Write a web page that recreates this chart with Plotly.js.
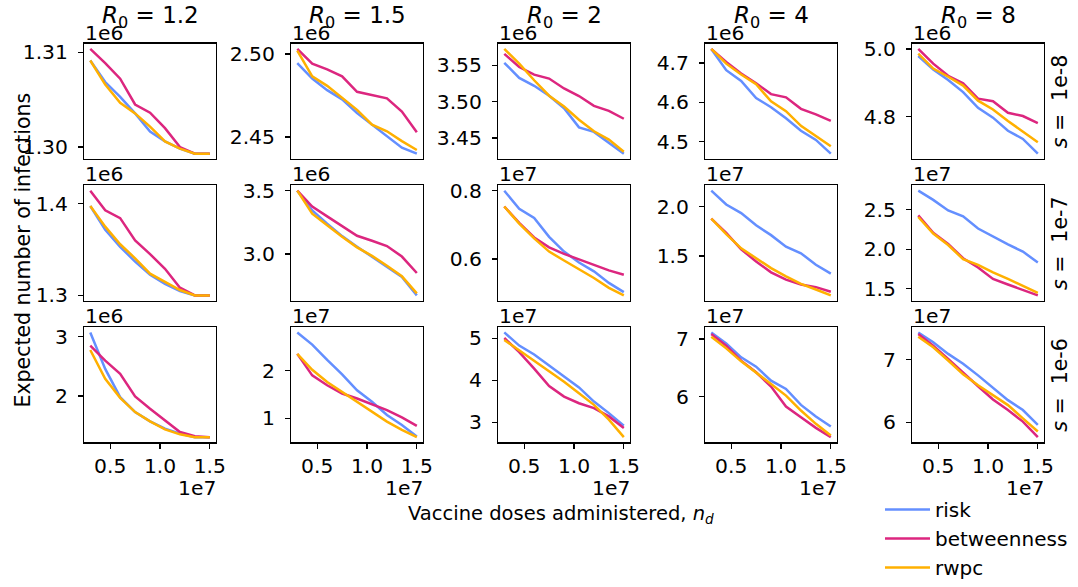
<!DOCTYPE html>
<html>
<head>
<meta charset="utf-8">
<script src="https://cdn.plot.ly/plotly-3.0.1.min.js"></script>
<style>html,body{margin:0;padding:0;background:#fff;}#chart{width:1078px;height:587px;}</style>
</head>
<body>
<div id="chart"></div>
<script>
// ---------------- data ----------------
const R0Labels = ["1.2", "1.5", "2", "4", "8"];
const sLabels = ["1e-8", "1e-7", "1e-6"];
const doses = [3e6, 4.5e6, 6e6, 7.5e6, 9e6, 1.05e7, 1.2e7, 1.35e7, 1.5e7];
const strategies = ["risk", "betweenness", "rwpc"];
const colors = ["#648FFF", "#DC267F", "#FFB000"];

// values shown in units of the per-panel offset (see yOffsets)
const risk_s1e8 = [
  [1.30913, 1.30686, 1.30530, 1.30355, 1.30164, 1.30059, 1.29983, 1.29930, 1.29930],
  [2.49444, 2.48512, 2.47817, 2.47262, 2.46429, 2.45734, 2.45040, 2.44345, 2.43988],
  [3.5536, 3.5327, 3.5218, 3.5082, 3.4909, 3.4645, 3.4582, 3.4432, 3.4282],
  [4.7358, 4.6817, 4.6542, 4.6108, 4.5875, 4.5592, 4.5275, 4.5042, 4.4692],
  [4.9790, 4.9391, 4.9082, 4.8725, 4.8261, 4.7971, 4.7585, 4.7343, 4.6908]
];
const betweenness_s1e8 = [
  [1.31035, 1.30885, 1.30721, 1.30449, 1.30362, 1.30199, 1.30000, 1.29930, 1.29930],
  [2.50298, 2.49405, 2.49067, 2.48651, 2.47718, 2.47520, 2.47321, 2.46528, 2.45278],
  [3.5659, 3.5477, 3.5373, 3.5318, 3.5182, 3.5077, 3.4941, 3.4873, 3.4764],
  [4.7358, 4.7025, 4.6733, 4.6483, 4.6208, 4.6125, 4.5833, 4.5692, 4.5525],
  [5.0000, 4.9565, 4.9208, 4.8986, 4.8531, 4.8454, 4.8116, 4.8019, 4.7807]
];
const rwpc_s1e8 = [
  [1.30913, 1.30659, 1.30467, 1.30355, 1.30216, 1.30059, 1.29983, 1.29930, 1.29930],
  [2.50198, 2.48651, 2.48075, 2.47361, 2.46627, 2.45734, 2.45337, 2.44742, 2.44206],
  [3.5727, 3.5523, 3.5295, 3.5082, 3.4932, 3.4750, 3.4591, 3.4477, 3.4309],
  [4.7358, 4.6983, 4.6708, 4.6458, 4.6025, 4.5775, 4.5400, 4.5150, 4.4883],
  [4.9860, 4.9420, 4.9179, 4.8918, 4.8473, 4.8213, 4.7874, 4.7565, 4.7246]
];

const risk_s1e7 = [
  [1.3972, 1.3712, 1.3527, 1.3367, 1.3224, 1.3124, 1.3046, 1.2998, 1.2998],
  [3.5000, 3.3438, 3.2396, 3.1406, 3.0573, 2.9792, 2.8958, 2.8177, 2.6719],
  [0.8000, 0.7469, 0.7198, 0.6647, 0.6213, 0.5894, 0.5633, 0.5295, 0.5024],
  [2.1600, 2.0200, 1.9333, 1.8100, 1.7100, 1.5933, 1.5267, 1.4100, 1.3200],
  [2.7417, 2.6250, 2.4917, 2.4167, 2.2625, 2.1583, 2.0625, 1.9708, 1.8333]
];
const betweenness_s1e7 = [
  [1.4139, 1.3925, 1.3840, 1.3598, 1.3448, 1.3288, 1.3082, 1.2998, 1.2998],
  [3.5000, 3.3750, 3.2969, 3.2188, 3.1432, 3.1042, 3.0625, 2.9792, 2.8490],
  [0.7536, 0.7053, 0.6628, 0.6338, 0.6145, 0.5990, 0.5826, 0.5662, 0.5536],
  [1.8767, 1.7333, 1.5667, 1.4433, 1.3333, 1.2600, 1.2100, 1.1833, 1.1367],
  [2.4292, 2.2083, 2.0667, 1.8875, 1.7708, 1.6250, 1.5542, 1.4833, 1.4167]
];
const rwpc_s1e7 = [
  [1.3972, 1.3747, 1.3555, 1.3402, 1.3235, 1.3142, 1.3057, 1.2998, 1.2998],
  [3.5000, 3.3177, 3.2266, 3.1354, 3.0521, 2.9844, 2.9063, 2.8229, 2.6875],
  [0.7536, 0.7034, 0.6599, 0.6213, 0.5952, 0.5700, 0.5440, 0.5150, 0.4928],
  [1.8767, 1.7200, 1.5767, 1.4767, 1.3767, 1.2933, 1.2167, 1.1600, 1.1000],
  [2.4083, 2.2000, 2.0542, 1.8750, 1.8042, 1.7083, 1.6250, 1.5417, 1.4500]
];

const risk_s1e6 = [
  [3.0726, 2.4581, 1.9832, 1.7318, 1.5754, 1.4525, 1.3687, 1.3100, 1.3100],
  [2.7931, 2.5379, 2.2207, 1.9172, 1.5862, 1.3448, 1.0690, 0.8621, 0.6207],
  [5.1412, 4.8275, 4.6157, 4.3569, 4.0980, 3.8314, 3.4941, 3.2196, 2.9216],
  [7.1156, 6.9249, 6.6821, 6.5202, 6.2775, 6.1329, 5.8555, 5.6532, 5.4798],
  [7.4392, 7.2804, 7.0952, 6.9365, 6.7513, 6.5556, 6.3545, 6.1958, 5.9577]
];
const betweenness_s1e6 = [
  [2.8492, 2.5978, 2.3743, 1.9944, 1.7877, 1.5922, 1.3966, 1.3240, 1.3100],
  [2.3448, 1.8966, 1.6897, 1.5172, 1.4138, 1.2966, 1.1724, 1.0207, 0.8414],
  [5.0078, 4.6706, 4.2784, 3.8627, 3.6118, 3.4549, 3.3373, 3.1412, 2.8667],
  [7.0867, 6.8844, 6.6243, 6.4220, 6.1734, 5.8266, 5.6416, 5.4566, 5.2948],
  [7.4127, 7.2275, 7.0159, 6.7884, 6.5767, 6.3651, 6.1958, 6.0106, 5.7619]
];
const rwpc_s1e6 = [
  [2.7765, 2.2905, 1.9721, 1.7318, 1.5754, 1.4413, 1.3575, 1.3100, 1.3100],
  [2.3448, 2.0138, 1.7586, 1.5517, 1.3448, 1.1379, 0.9310, 0.7586, 0.6069],
  [4.9608, 4.7098, 4.4745, 4.2235, 3.9647, 3.6902, 3.4157, 3.0627, 2.6471],
  [7.0405, 6.8382, 6.6127, 6.4220, 6.2197, 6.0173, 5.7572, 5.5260, 5.3237],
  [7.3704, 7.2011, 6.9894, 6.7672, 6.5926, 6.4339, 6.2751, 6.0635, 5.8519]
];

const yOffsets = [
  ["1e6", "1e6", "1e6", "1e6", "1e6"],
  ["1e6", "1e6", "1e7", "1e7", "1e7"],
  ["1e6", "1e7", "1e7", "1e7", "1e7"]
];
const yTickLabels = [
  [["1.30", "1.31"], ["2.45", "2.50"], ["3.45", "3.50", "3.55"], ["4.5", "4.6", "4.7"], ["4.8", "5.0"]],
  [["1.3", "1.4"], ["3.0", "3.5"], ["0.6", "0.8"], ["1.5", "2.0"], ["1.5", "2.0", "2.5"]],
  [["2", "3"], ["1", "2"], ["3", "4", "5"], ["6", "7"], ["6", "7"]]
];
const xTickLabels = ["0.5", "1.0", "1.5"];
const xOffset = "1e7";

// ---------------- layout geometry (pixels) ----------------
const W = 1078, H = 587;
const colLeft = [84.3, 291.3, 498.3, 705.3, 912.3];
const colW = 131.5;
const rowTop = [44.3, 188.0, 331.7];
const rowH = 116.8;
const px = v => v / W;
const py = v => 1 - v / H;

const FONT = "DejaVu Sans, Verdana, sans-serif";
const FS = 20.3;

const rows = [
  [risk_s1e8, betweenness_s1e8, rwpc_s1e8],
  [risk_s1e7, betweenness_s1e7, rwpc_s1e7],
  [risk_s1e6, betweenness_s1e6, rwpc_s1e6]
];

const traces = [];
const layout = {
  width: W, height: H,
  margin: {l: 0, r: 0, t: 0, b: 0},
  paper_bgcolor: "#fff", plot_bgcolor: "#fff",
  font: {family: FONT, size: FS, color: "#000"},
  showlegend: true,
  legend: {
    x: px(880), y: py(497), xanchor: "left", yanchor: "top",
    bgcolor: "rgba(0,0,0,0)", borderwidth: 0,
    font: {family: FONT, size: 20, color: "#000"},
    tracegroupgap: 0, itemwidth: 45
  },
  annotations: []
};

const xMin = doses[0], xMax = doses[doses.length - 1];
const xPad = 0.05 * (xMax - xMin);

for (let r = 0; r < 3; r++) {
  for (let c = 0; c < 5; c++) {
    const idx = r * 5 + c + 1;
    const sfx = idx === 1 ? "" : String(idx);
    const series = rows[r].map(s => s[c]);
    series.forEach((ys, k) => {
      traces.push({
        x: doses, y: ys, xaxis: "x" + sfx, yaxis: "y" + sfx,
        type: "scatter", mode: "lines",
        line: {color: colors[k], width: 2.5},
        name: strategies[k], legendgroup: strategies[k],
        showlegend: idx === 1, hoverinfo: "skip"
      });
    });
    const all = [].concat(...series);
    const lo = Math.min(...all), hi = Math.max(...all);
    const pad = 0.05 * (hi - lo);
    const common = {
      showline: true, mirror: true, linecolor: "#000", linewidth: 1.3,
      showgrid: false, zeroline: false,
      ticklen: 5, tickwidth: 1.3, tickcolor: "#000",
      tickfont: {family: FONT, size: FS, color: "#000"},
      fixedrange: true
    };
    layout["xaxis" + sfx] = Object.assign({}, common, {
      domain: [px(colLeft[c]), px(colLeft[c] + colW)],
      anchor: "y" + sfx,
      range: [xMin - xPad, xMax + xPad],
      tickmode: "array",
      tickvals: xTickLabels.map(t => parseFloat(t) * 1e7),
      ticktext: xTickLabels,
      ticks: r === 2 ? "outside" : "",
      showticklabels: r === 2
    });
    const yt = yTickLabels[r][c];
    layout["yaxis" + sfx] = Object.assign({}, common, {
      domain: [py(rowTop[r] + rowH), py(rowTop[r])],
      anchor: "x" + sfx,
      range: [lo - pad, hi + pad],
      tickmode: "array",
      tickvals: yt.map(parseFloat),
      ticktext: yt,
      ticks: "outside",
      ticklabelstandoff: 6
    });
    // offset text above the frame
    layout.annotations.push({
      xref: "paper", yref: "paper",
      x: px(colLeft[c] - 1), y: py(rowTop[r]),
      xanchor: "left", yanchor: "bottom", yshift: -3,
      text: yOffsets[r][c], showarrow: false,
      font: {family: FONT, size: FS, color: "#000"}
    });
    if (r === 2) {
      layout.annotations.push({
        xref: "paper", yref: "paper",
        x: px(colLeft[c] + colW + 2), y: py(495),
        xanchor: "right", yanchor: "middle",
        text: xOffset, showarrow: false,
        font: {family: FONT, size: FS, color: "#000"}
      });
    }
  }
}

// column titles
R0Labels.forEach((lab, c) => {
  layout.annotations.push({
    xref: "paper", yref: "paper",
    x: px(colLeft[c] + colW / 2), y: py(17),
    xanchor: "center", yanchor: "middle",
    text: "<i>R</i><sub>0</sub> = " + lab, showarrow: false,
    font: {family: FONT, size: 23, color: "#000"}
  });
});
// row labels
sLabels.forEach((lab, r) => {
  layout.annotations.push({
    xref: "paper", yref: "paper",
    x: px(1060), y: py(rowTop[r] + rowH / 2),
    xanchor: "center", yanchor: "middle",
    text: "<i>s</i> = \u00a01e" + lab.slice(2), textangle: -90, showarrow: false,
    font: {family: FONT, size: 20.5, color: "#000"}
  });
});
// shared axis labels
layout.annotations.push({
  xref: "paper", yref: "paper",
  x: px(23), y: py(254), xanchor: "center", yanchor: "middle",
  text: "Expected number of infections", textangle: -90, showarrow: false,
  font: {family: FONT, size: 20.5, color: "#000"}
});
layout.annotations.push({
  xref: "paper", yref: "paper",
  x: px(561), y: py(522), xanchor: "center", yanchor: "middle",
  text: "Vaccine doses administered, <i>n</i><sub><i>d</i></sub>", showarrow: false,
  font: {family: FONT, size: 19.5, color: "#000"}
});

Plotly.newPlot("chart", traces, layout, {displayModeBar: false, staticPlot: true});
</script>
</body>
</html>
